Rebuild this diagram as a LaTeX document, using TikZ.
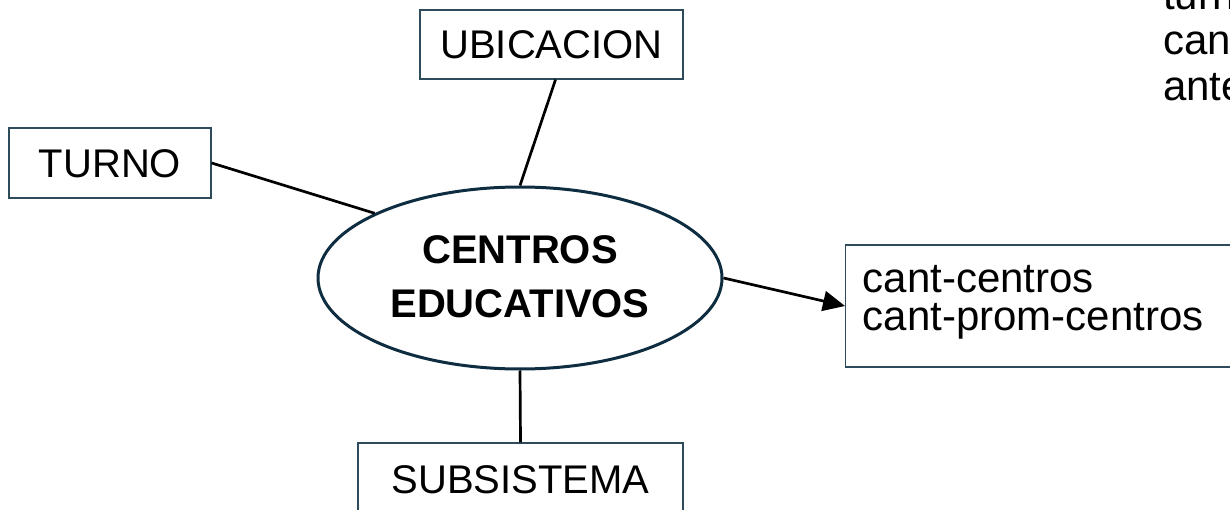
\documentclass[tikz,border=0pt]{standalone}
\usepackage{fontspec}
\setmainfont{Liberation Sans}
\usetikzlibrary{shapes.geometric,arrows.meta}
\definecolor{boxline}{RGB}{45,75,90}
\definecolor{ellline}{RGB}{15,45,64}
\tikzset{
  box/.style={draw=boxline, line width=1.3pt, rectangle, inner sep=0pt,
    font=\fontsize{40}{54}\selectfont, text height=29pt, text depth=0pt},
  conn/.style={draw=black, line width=2.7pt},
}
\begin{document}
\begin{tikzpicture}[x=1pt,y=-1pt]
\useasboundingbox (0,0) rectangle (1230,510);
\node[draw=ellline, line width=3pt, ellipse, minimum width=404pt, minimum height=182pt, inner sep=0pt,
  align=center, font=\fontsize{40}{54}\selectfont\bfseries, text height=83pt, text depth=5pt]
  (ell) at (520,278) {CENTROS\\EDUCATIVOS};
\node[box, minimum width=263pt, minimum height=69pt] (ubic) at (551.5,44.5) {UBICACION};
\node[box, minimum width=202pt, minimum height=70pt] (turno) at (110,163) {TURNO};
\node[box, minimum width=325pt, minimum height=72pt] (subs) at (520.5,479) {SUBSISTEMA};
\node[draw=boxline, line width=1.3pt, rectangle, anchor=west, minimum width=395pt, minimum height=122pt,
  inner xsep=17pt, inner ysep=0pt, text width=361pt, align=left,
  font=\fontsize{42}{38}\selectfont, text height=20pt, text depth=47pt]
  (res) at (845,306) {cant-centros\\cant-prom-centros};
\node[anchor=north west, inner sep=0pt, align=left, font=\fontsize{42}{45.5}\selectfont,
  text height=121pt, text depth=0pt] (corner) at (1163,-21) {turn\\cant\\ante};
\draw[conn] ([xshift=4pt]ubic.south) -- (ell.north);
\draw[conn] (turno.east) -- (ell.156);
\draw[conn] (ell.south) -- (subs.north);
\draw[conn, -{Triangle[length=22pt,width=20pt]}] (ell.east) -- (res.west);
\end{tikzpicture}
\end{document}
